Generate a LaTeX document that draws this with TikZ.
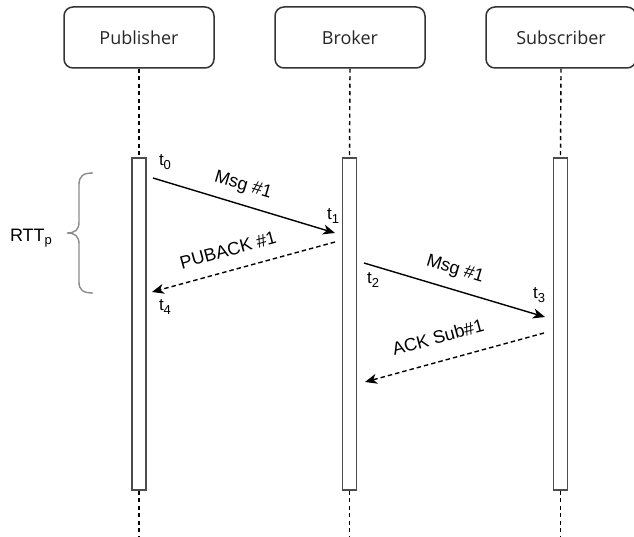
\documentclass[tikz,border=0pt]{standalone}
\usepackage{fontspec}
\setmainfont{Liberation Sans}
\newfontfamily\boxfont{Open Sans}
\usetikzlibrary{arrows.meta}
\begin{document}
\begin{tikzpicture}[x=1pt,y=-1pt,
  actor/.style={draw=black!80,line width=1.5pt,rounded corners=9pt,minimum width=150pt,minimum height=61pt,inner sep=0pt,font=\boxfont\fontsize{18}{21}\selectfont,text=black!85},
  bar/.style={draw=black!70,line width=1.5pt,fill=white,minimum width=14pt,minimum height=332pt,inner sep=0pt},
  life/.style={draw=black,line width=1.4pt,dash pattern=on 4pt off 3.5pt},
  msg/.style={line width=1.4pt,-{Stealth[length=12pt,width=10pt,inset=3.5pt]}},
  ret/.style={msg,dash pattern=on 4.5pt off 3pt},
  lbl/.style={font=\fontsize{18}{21}\selectfont,text=black,inner sep=0pt},
  tl/.style={font=\fontsize{17}{19}\selectfont,text=black,inner sep=0pt}]
\useasboundingbox (0,0) rectangle (634,537);
\node[actor] (pub) at (139,37.5) {Publisher};
\node[actor] (bro) at (350,37.5) {Broker};
\node[actor] (sub) at (561,37.5) {Subscriber};
\node[bar] (pbar) at (139,324) {};
\node[bar] (bbar) at (349.5,324) {};
\node[bar] (sbar) at (560.5,324) {};
\coordinate (pend) at (139,537);
\coordinate (bend) at (349.5,537);
\coordinate (send) at (560.5,537);
\draw[life] (pub.south) -- (pbar.north);
\draw[life] (bro.south) -- (bbar.north);
\draw[life] (sub.south) -- (sbar.north);
\draw[life] (pbar.south) -- (pend);
\draw[life] (bbar.south) -- (bend);
\draw[life] (sbar.south) -- (send);
% message anchor points
\coordinate (a0) at (153,178);
\coordinate (a1) at (335,233);
\coordinate (b1) at (335,242);
\coordinate (a4) at (152,292);
\coordinate (a2) at (364,263);
\coordinate (a3) at (545,317);
\coordinate (b3) at (544,333);
\coordinate (a5) at (365,382);
\draw[msg] (a0) -- (a1);
\draw[ret] (b1) -- (a4);
\draw[msg] (a2) -- (a3);
\draw[ret] (b3) -- (a5);
\node[lbl,rotate=-16.8] (l1) at (243,186) {Msg \#1};
\node[lbl,rotate=15.3] (l2) at (228,250) {PUBACK \#1};
\node[lbl,rotate=-16.8] (l3) at (455,270) {Msg \#1};
\node[lbl,rotate=15.3] (l4) at (438,337) {ACK Sub\#1};
\node[tl] (t0) at (165,162) {t\raisebox{-0.35ex}{\fontsize{13}{13}\selectfont 0}};
\node[tl] (t1) at (333,216) {t\raisebox{-0.35ex}{\fontsize{13}{13}\selectfont 1}};
\node[tl] (t2) at (373,280) {t\raisebox{-0.35ex}{\fontsize{13}{13}\selectfont 2}};
\node[tl] (t3) at (539,295) {t\raisebox{-0.35ex}{\fontsize{13}{13}\selectfont 3}};
\node[tl] (t4) at (165,307) {t\raisebox{-0.35ex}{\fontsize{13}{13}\selectfont 4}};
\node[lbl] (rtt) at (31,238) {RTT\raisebox{-0.35ex}{\fontsize{13}{13}\selectfont p}};
\draw[black!45,line width=1.4pt] (93,173) .. controls (83,173) and (79,176) .. (79,185) -- (79,222) .. controls (79,230) and (75,233) .. (67,233) .. controls (75,233) and (79,236) .. (79,244) -- (79,282) .. controls (79,290) and (83,293) .. (93,293);
\end{tikzpicture}
\end{document}
